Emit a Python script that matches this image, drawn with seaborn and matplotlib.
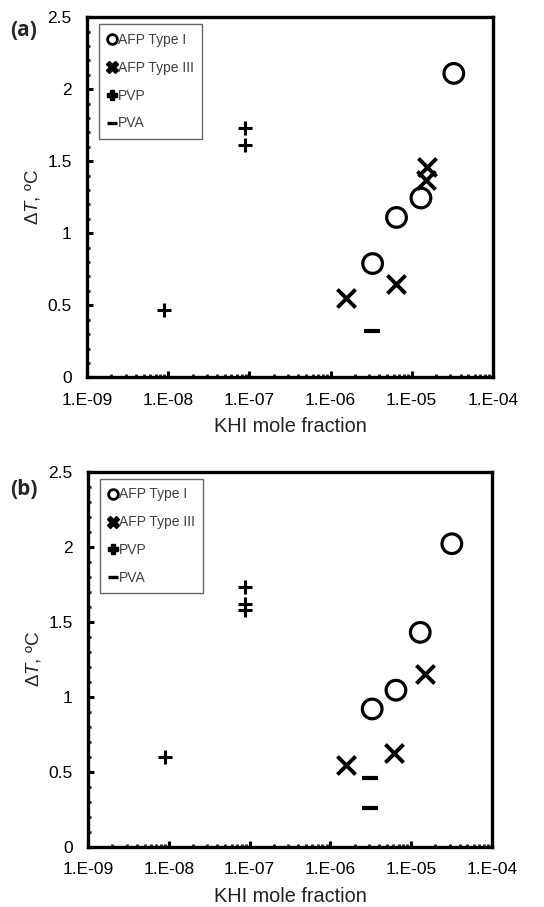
import numpy as np
import pandas as pd
import matplotlib
matplotlib.use("Agg")
import matplotlib.pyplot as plt
from matplotlib.lines import Line2D
from matplotlib.ticker import MultipleLocator, FuncFormatter, FixedLocator, NullFormatter
import seaborn as sns

# ---- data (KHI mole fraction, dT in C) ----
series_names = ["AFP Type I", "AFP Type III", "PVP", "PVA"]

a_afp1_x = [3.3e-6, 6.5e-6, 1.3e-5, 3.3e-5]
a_afp1_y = [0.79, 1.11, 1.245, 2.11]
a_afp3_x = [1.55e-6, 6.4e-6, 1.5e-5, 1.55e-5]
a_afp3_y = [0.55, 0.65, 1.37, 1.46]
a_pvp_x = [8.9e-9, 8.8e-8, 8.8e-8]
a_pvp_y = [0.47, 1.61, 1.73]
a_pva_x = [3.2e-6]
a_pva_y = [0.325]

b_afp1_x = [3.3e-6, 6.5e-6, 1.3e-5, 3.2e-5]
b_afp1_y = [0.92, 1.045, 1.43, 2.02]
b_afp3_x = [1.55e-6, 6.2e-6, 1.5e-5]
b_afp3_y = [0.55, 0.63, 1.155]
b_pvp_x = [8.9e-9, 8.8e-8, 8.8e-8, 8.8e-8]
b_pvp_y = [0.60, 1.58, 1.62, 1.73]
b_pva_x = [3.1e-6, 3.1e-6]
b_pva_y = [0.46, 0.26]

x_decades = [1e-9, 1e-8, 1e-7, 1e-6, 1e-5, 1e-4]
panel_labels = ["(a)", "(b)"]


def make_df(groups):
    rows = []
    for name, (xs, ys) in zip(series_names, groups):
        for x, y in zip(xs, ys):
            rows.append({"KHI": name, "x": x, "y": y})
    return pd.DataFrame(rows)


df_a = make_df([(a_afp1_x, a_afp1_y), (a_afp3_x, a_afp3_y),
                (a_pvp_x, a_pvp_y), (a_pva_x, a_pva_y)])
df_b = make_df([(b_afp1_x, b_afp1_y), (b_afp3_x, b_afp3_y),
                (b_pvp_x, b_pvp_y), (b_pva_x, b_pva_y)])

sns.set_style("white")
plt.rcParams["font.family"] = ["Liberation Sans", "DejaVu Sans"]
plt.rcParams["mathtext.fontset"] = "custom"
plt.rcParams["mathtext.it"] = "Liberation Sans:italic"
plt.rcParams["mathtext.rm"] = "Liberation Sans"

marker_style = {
    "AFP Type I": dict(marker="o", s=200, facecolor="none", edgecolor="black", linewidth=2.3),
    "AFP Type III": dict(marker="x", s=170, color="black", linewidth=2.8),
    "PVP": dict(marker="+", s=110, color="black", linewidth=2.2),
    "PVA": dict(marker="_", s=130, color="black", linewidth=3.0),
}

# minor ticks 2..9 inside each decade
minor_x = [d * k for d in x_decades[:-1] for k in range(2, 10)]

fig = plt.figure(figsize=(5.44, 9.07), dpi=100)
ax_a = fig.add_axes([0.160, 0.584, 0.746, 0.397])
ax_b = fig.add_axes([0.162, 0.066, 0.742, 0.414])
label_y = [0.978, 0.472]

for ax, df, lab, ly in zip([ax_a, ax_b], [df_a, df_b], panel_labels, label_y):
    for name in series_names:
        sub = df[df["KHI"] == name]
        sns.scatterplot(data=sub, x="x", y="y", ax=ax, legend=False, **marker_style[name])
    ax.set_xscale("log")
    ax.set_xlim(1e-9, 1e-4)
    ax.set_ylim(0, 2.5)
    ax.xaxis.set_major_locator(FixedLocator(x_decades))
    ax.xaxis.set_minor_locator(FixedLocator(minor_x))
    ax.xaxis.set_minor_formatter(NullFormatter())
    ax.xaxis.set_major_formatter(FuncFormatter(lambda v, p: "1.E-%02d" % round(-np.log10(v))))
    ax.yaxis.set_major_locator(MultipleLocator(0.5))
    ax.yaxis.set_minor_locator(MultipleLocator(0.1))
    ax.yaxis.set_major_formatter(FuncFormatter(lambda v, p: "%g" % v))
    ax.tick_params(axis="both", which="major", direction="in", length=4, width=2.2,
                   labelsize=12.5, colors="black")
    ax.tick_params(axis="y", which="major", pad=11)
    ax.tick_params(axis="x", which="major", pad=11)
    ax.tick_params(axis="both", which="minor", direction="in", length=2.5, width=2.0)
    ax.tick_params(axis="x", which="both", top=False, bottom=True)
    ax.tick_params(axis="y", which="both", left=True, right=False)
    for sp in ax.spines.values():
        sp.set_linewidth(2.4)
        sp.set_color("black")
    ax.set_xlabel("KHI mole fraction", fontsize=14.3, color="#222222", labelpad=7)
    ax.set_ylabel(r"$\mathit{\Delta T}$, ºC", fontsize=13.5, color="#222222", labelpad=4)
    fig.text(0.018, ly, lab, fontsize=15, fontweight="bold",
             family="Open Sans", ha="left", va="top")

    handles = [
        Line2D([], [], marker="o", linestyle="none", markersize=7, markerfacecolor="white",
               markeredgecolor="black", markeredgewidth=2.0),
        Line2D([], [], marker="X", linestyle="none", markersize=8, color="black"),
        Line2D([], [], marker="P", linestyle="none", markersize=6.5, color="black"),
        Line2D([], [], marker="_", linestyle="none", markersize=7, color="black",
               markeredgewidth=2.4),
    ]
    leg = ax.legend(handles, series_names, loc="upper left", bbox_to_anchor=(0.03, 0.98),
                    frameon=True, fancybox=False, fontsize=10, handlelength=0.6,
                    handletextpad=0.15, labelspacing=1.0, borderpad=0.6,
                    borderaxespad=0.0, labelcolor="#404040")
    leg.get_frame().set_edgecolor("#404040")
    leg.get_frame().set_linewidth(1.0)

plt.savefig("out.png", dpi=100)
